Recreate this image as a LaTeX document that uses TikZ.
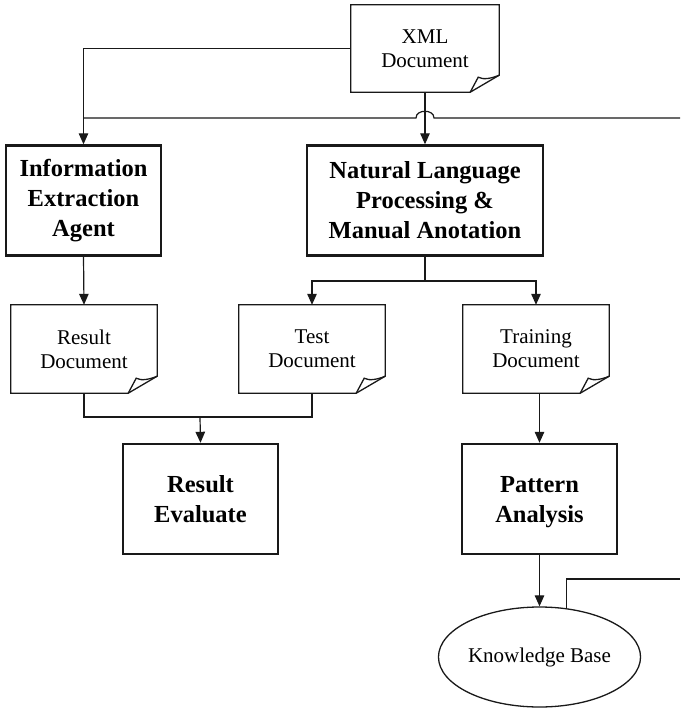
\documentclass[tikz,border=0pt]{standalone}
\usepackage{fontspec}
\setmainfont{Liberation Serif}
\usetikzlibrary{arrows.meta,shapes.geometric}

\tikzset{
  wire/.style={line width=1.2pt, draw=black!90},
  conn/.style={wire, -{Triangle[length=11pt,width=9.5pt]}},
  docline/.style={line width=1.3pt, draw=black!90, line join=miter},
  procbox/.style={rectangle, draw=black!90, line width=2.4pt, inner sep=0pt,
    align=center, minimum width=#1, minimum height=110pt,
    font=\fontsize{24.5}{30}\selectfont\bfseries},
  docbox/.style={rectangle, inner sep=0pt, align=center,
    minimum width=146pt, minimum height=88pt,
    font=\fontsize{21}{24}\selectfont},
  kbnode/.style={ellipse, draw=black!90, line width=1.3pt, inner sep=0pt,
    minimum width=193pt, minimum height=100pt,
    font=\fontsize{21}{24}\selectfont},
}

% page outline with a curled lower right corner
\newcommand\docframe[1]{%
  \draw[docline] (#1.north west) -- (#1.north east)
    -- ([yshift=17pt]#1.south east) -- ([xshift=-29pt]#1.south east)
    -- (#1.south west) -- cycle;
  \draw[docline] ([xshift=-29pt]#1.south east)
    -- ([xshift=-21pt,yshift=15pt]#1.south east)
    .. controls ([xshift=-16pt,yshift=12pt]#1.south east)
           and ([xshift=-7pt,yshift=14pt]#1.south east)
    .. ([yshift=17pt]#1.south east);}

\begin{document}
\begin{tikzpicture}[x=1pt, y=-1pt]
\useasboundingbox (0,0) rectangle (680,708);

% documents
\node[docbox, minimum width=148pt, minimum height=87pt] (xml) at (425,48.5) {XML\\Document};
\node[docbox] (rdoc)  at (84,349)  {Result\\Document};
\node[docbox] (tdoc)  at (312,349) {Test\\Document};
\node[docbox] (trdoc) at (536,349) {Training\\Document};
\docframe{xml}
\docframe{rdoc}
\docframe{tdoc}
\docframe{trdoc}

% processing steps
\node[procbox=155pt] (info) at (83.5,200.5) {Information\\Extraction\\Agent};
\node[procbox=236pt] (nlp)  at (425,200.5) {Natural Language\\Processing \&\\Manual Anotation};
\node[procbox=155pt] (eval) at (200.5,499) {Result\\Evaluate};
\node[procbox=155pt] (pat)  at (539.5,499) {Pattern\\\raisebox{0pt}[\height][0pt]{Analysis}};

% knowledge base
\node[kbnode] (kb) at (539.5,657) {Knowledge Base};

% helper points
\coordinate (fbtop) at (680,118);
\coordinate (fbbot) at (680,579);
\coordinate (jmp)   at (xml.south |- fbtop);
\coordinate (nsplit) at (425,281);
\coordinate (ejoin)  at (200,417);

% XML document to both processing steps
\draw[conn] (xml.west) -| (info.north);
\draw[conn] (xml.south) -- (nlp.north);

% feedback line crossing the XML connector with a hop
\draw[wire] (fbtop) -- ([xshift=9pt]jmp)
  .. controls +(0,-9) and +(0,-9) .. ([xshift=-9pt]jmp)
  -- (info.north |- fbtop);

% extraction result
\draw[conn] (info.south) -- (rdoc.north);

% NLP split into test and training data
\draw[wire] (nlp.south) -- (nsplit);
\draw[conn] (nsplit) -| (tdoc.north);
\draw[conn] (nsplit) -| (trdoc.north);

% evaluation
\draw[wire] (rdoc.south) -- (rdoc.south |- ejoin) -| (tdoc.south);
\draw[conn] (ejoin) -- (eval.north);

% training path
\draw[conn] (pat.north |- trdoc.south) -- (pat.north);
\draw[conn] (pat.south) -- (kb.north);
\draw[wire] (kb.61) |- (fbbot);
\end{tikzpicture}
\end{document}
